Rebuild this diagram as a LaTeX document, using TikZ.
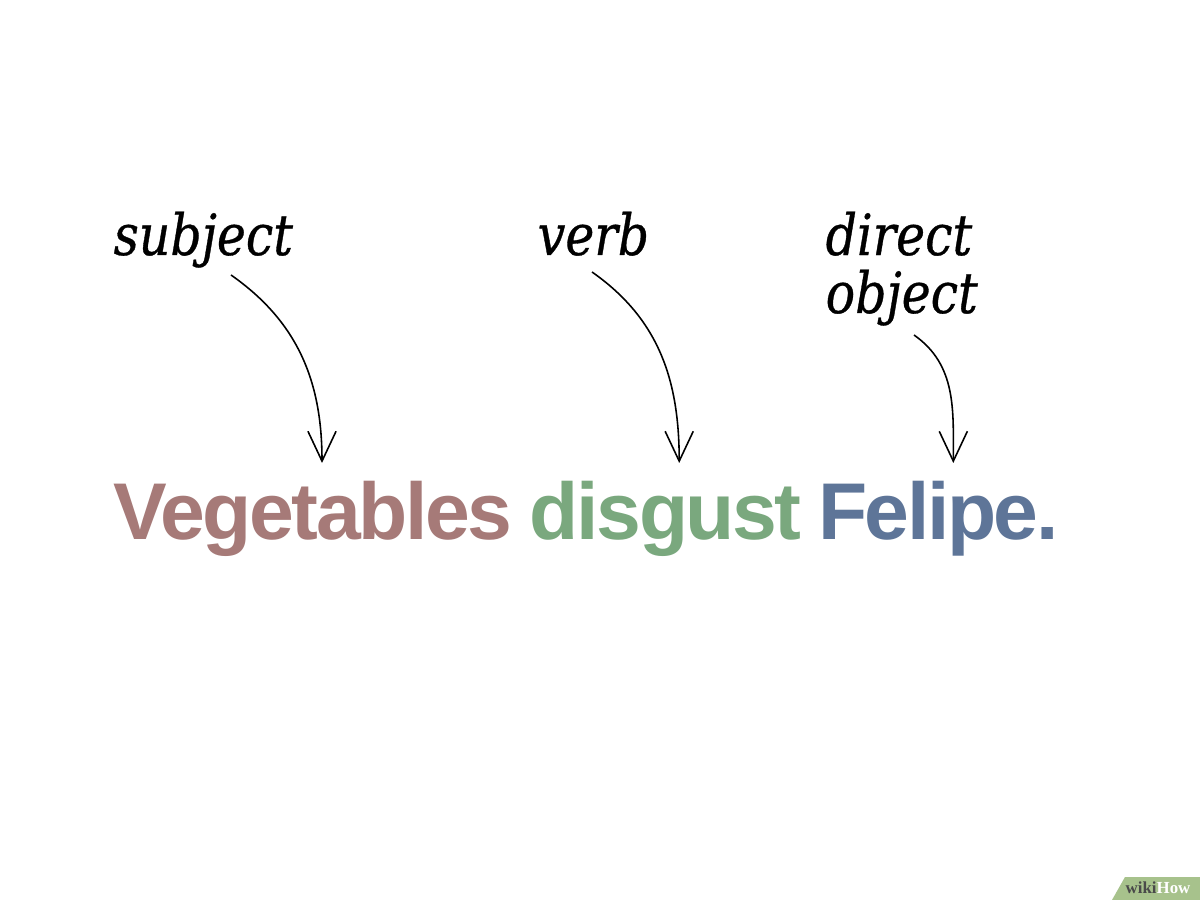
\documentclass[tikz,border=0pt]{standalone}
\usepackage{fontspec}
\setmainfont{DejaVu Serif}
\newfontfamily\labelfont[FakeStretch=0.86,FakeBold=0.6]{DejaVu Serif Italic}
\newfontfamily\wordfont[LetterSpace=-3]{Liberation Sans}
\newfontfamily\logofont{Liberation Serif}
\usetikzlibrary{arrows.meta,positioning,calc}
\definecolor{subjcol}{HTML}{A67A78}
\definecolor{verbcol}{HTML}{7AA87E}
\definecolor{objcol}{HTML}{5E7598}
\definecolor{wikigreen}{HTML}{A7C28C}
\definecolor{wikigray}{HTML}{4A4A4A}
\tikzset{
    label/.style = {anchor=base west,
                    inner sep=0pt,
                    text=black,
                    align=left,
                    font=\fontsize{16.2}{16.5}\selectfont\labelfont},
    word/.style =  {inner sep=0pt,
                    font=\fontsize{22.9}{24}\selectfont\wordfont\bfseries},
    pointer/.style = {draw=black,
                    line width=0.45pt,
                    -{Straight Barb[length=8.5pt,width=8pt]}},
    node distance=0.2cm}

\begin{document}
\begin{tikzpicture}
    \useasboundingbox[fill=white] (0,0) rectangle (12,9);
    % labels
    \node[label]    (subj)   at (1.13,6.45)   {subject};
    \node[label]    (verb)   at (5.37,6.45)   {verb};
    \node[label]    (dobj)   at (8.25,5.87)   {direct\\object};
    % the sentence
    \node[word,text=subjcol,anchor=base west] (Veg) at (1.13,3.60) {Vegetables};
    \node[word,text=verbcol] (dis) [base right=0.16cm of Veg] {disgust};
    \node[word,text=objcol]  (Fel) [base right=0.15cm of dis] {Felipe.};
    % pointers
    \draw[pointer] ($(subj.base west)+(1.18,-0.20)$) to[out=-35,in=90] ($(Veg.base west)+(2.09,0.77)$);
    \draw[pointer] ($(verb.base west)+(0.55,-0.17)$) to[out=-35,in=90] ($(dis.base west)+(1.50,0.77)$);
    \draw[pointer] ($(dobj.base west)+(0.89,-0.22)$) to[out=-35,in=90] ($(Fel.base west)+(1.36,0.77)$);
    % wikiHow tab
    \fill[wikigreen] (11.12,0) -- (12,0) -- (12,0.23) -- (11.25,0.23) -- cycle;
    \node[anchor=base west,inner sep=0pt,font=\fontsize{4.8}{5}\selectfont\logofont\bfseries] (logo) at (11.25,0.07)
        {\textcolor{wikigray}{wiki}\textcolor{white}{How}};
\end{tikzpicture}
\end{document}
